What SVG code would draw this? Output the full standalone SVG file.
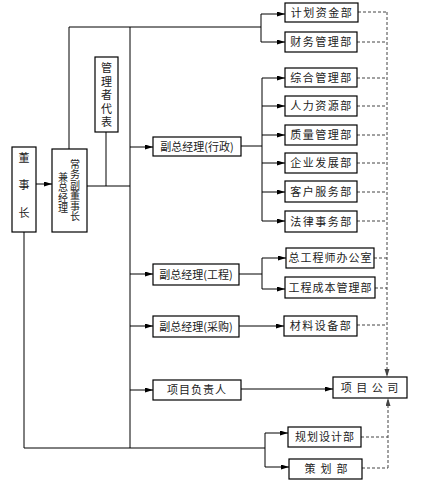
<svg xmlns="http://www.w3.org/2000/svg" width="426" height="484" viewBox="0 0 426 484">
<defs>
<marker id="ah" markerUnits="userSpaceOnUse" markerWidth="9" markerHeight="6" refX="8" refY="2.5" orient="auto"><path d="M0,0 L8,2.5 L0,5 z" fill="#000"/></marker>
<marker id="ahg" markerUnits="userSpaceOnUse" markerWidth="9" markerHeight="6" refX="8" refY="2.5" orient="auto"><path d="M0,0 L8,2.5 L0,5 z" fill="#444"/></marker>
<style>
.b{fill:#fff;stroke:#000;stroke-width:1.2}
.t{font-family:"Noto Sans CJK SC","Noto Sans CJK JP",sans-serif;font-size:11px;fill:#222;text-anchor:middle}
.vt{font-family:"Noto Sans CJK SC","Noto Sans CJK JP",sans-serif;font-size:10px;fill:#222;writing-mode:vertical-rl;text-anchor:start}
.vt11{font-size:11px}
.s{fill:none;stroke:#000;stroke-width:1}
.a{fill:none;stroke:#000;stroke-width:1;marker-end:url(#ah)}
.d{fill:none;stroke:#444;stroke-width:1;stroke-dasharray:3 2}
.da{fill:none;stroke:#444;stroke-width:1;stroke-dasharray:3 2;marker-end:url(#ahg)}
</style>
</defs>
<rect width="426" height="484" fill="#fff"/>
<g id="connectors">
<path class="s" d="M69,149 V27 H261 M261,14 V42 M130,27 V448 M24,232 V448 H265 M265,433 V467 M87,186 H130 M106,132 V186 M241,146 H262 M262,78 V221 M239,274 H262 M262,258 V289"/>
<path class="a" d="M261,14 H285"/>
<path class="a" d="M261,42 H285"/>
<path class="a" d="M36,184 H52"/>
<path class="a" d="M130,147 H153"/>
<path class="a" d="M130,274 H153"/>
<path class="a" d="M130,326 H153"/>
<path class="a" d="M130,390 H153"/>
<path class="a" d="M262,78 H285"/>
<path class="a" d="M262,106 H285"/>
<path class="a" d="M262,135 H285"/>
<path class="a" d="M262,163 H285"/>
<path class="a" d="M262,192 H285"/>
<path class="a" d="M262,221 H285"/>
<path class="a" d="M262,258 H286"/>
<path class="a" d="M262,289 H285"/>
<path class="a" d="M239,326 H284"/>
<path class="a" d="M241,389 H333"/>
<path class="a" d="M265,433 H288"/>
<path class="a" d="M265,467 H289"/>
<path class="d" d="M358,12 H387 M357,42 H387 M357,78 H387 M357,106 H387 M357,135 H387 M357,163 H387 M357,192 H387 M357,221 H387 M374,258 H387 M375,288 H387 M357,325 H387 M361,437 H388 M362,468 H388"/>
<path class="da" d="M387,12 V377"/>
<path class="da" d="M388,468 V398"/>
</g>
<g id="n-dongshizhang"><rect class="b" x="12" y="147" width="24" height="85"/>
<text class="vt vt11" x="24" y="152" letter-spacing="16.5">董事长</text></g>
<g id="n-changwu"><rect class="b" x="52" y="149" width="35" height="83"/>
<text class="vt" x="75" y="159" letter-spacing="0.5">常务副董事长</text>
<text class="vt" x="63" y="172" letter-spacing="0.5">兼总经理</text></g>
<g id="n-guanli"><rect class="b" x="95" y="57" width="23" height="75"/>
<text class="vt vt11" x="106.5" y="62.5" letter-spacing="2.5">管理者代表</text></g>
<g id="n-xingzheng"><rect class="b" x="153" y="137" width="88" height="19"/><text class="t" x="197" y="150.5">副总经理(行政)</text></g>
<g id="n-gongcheng"><rect class="b" x="153" y="264" width="86" height="21"/><text class="t" x="196" y="278.5">副总经理(工程)</text></g>
<g id="n-caigou"><rect class="b" x="153" y="316" width="86" height="21"/><text class="t" x="196" y="330.5">副总经理(采购)</text></g>
<g id="n-xiangmufuzeren"><rect class="b" x="153" y="380" width="88" height="20"/><text class="t" x="197" y="394" letter-spacing="1">项目负责人</text></g>
<g id="n-jihua"><rect class="b" x="285" y="3" width="73" height="19"/><text class="t" x="322" y="16.5" letter-spacing="1.5">计划资金部</text></g>
<g id="n-caiwu"><rect class="b" x="285" y="32" width="72" height="20"/><text class="t" x="321.5" y="46" letter-spacing="1.5">财务管理部</text></g>
<g id="n-zonghe"><rect class="b" x="285" y="68" width="72" height="19"/><text class="t" x="321.5" y="81.5" letter-spacing="1.5">综合管理部</text></g>
<g id="n-renli"><rect class="b" x="285" y="96" width="72" height="20"/><text class="t" x="321.5" y="110" letter-spacing="1.5">人力资源部</text></g>
<g id="n-zhiliang"><rect class="b" x="285" y="125" width="72" height="20"/><text class="t" x="321.5" y="139" letter-spacing="1.5">质量管理部</text></g>
<g id="n-qiye"><rect class="b" x="285" y="153" width="72" height="20"/><text class="t" x="321.5" y="167" letter-spacing="1.5">企业发展部</text></g>
<g id="n-kehu"><rect class="b" x="285" y="181" width="72" height="21"/><text class="t" x="321.5" y="195.5" letter-spacing="1.5">客户服务部</text></g>
<g id="n-falv"><rect class="b" x="285" y="211" width="72" height="21"/><text class="t" x="321.5" y="225.5" letter-spacing="1.5">法律事务部</text></g>
<g id="n-zonggong"><rect class="b" x="286" y="248" width="88" height="20"/><text class="t" x="330.5" y="262" letter-spacing="1">总工程师办公室</text></g>
<g id="n-chengben"><rect class="b" x="285" y="277" width="90" height="21"/><text class="t" x="330.5" y="291.5" letter-spacing="1">工程成本管理部</text></g>
<g id="n-cailiao"><rect class="b" x="284" y="316" width="73" height="20"/><text class="t" x="321" y="330" letter-spacing="1.5">材料设备部</text></g>
<g id="n-xiangmugongsi"><rect class="b" x="333" y="377" width="74" height="21"/><text class="t" x="370" y="391.5" letter-spacing="1">项 目 公 司</text></g>
<g id="n-guihua"><rect class="b" x="288" y="427" width="73" height="20"/><text class="t" x="325" y="441" letter-spacing="1">规划设计部</text></g>
<g id="n-cehua"><rect class="b" x="289" y="459" width="73" height="20"/><text class="t" x="326" y="473" xml:space="preserve">策  划  部</text></g>
</svg>
